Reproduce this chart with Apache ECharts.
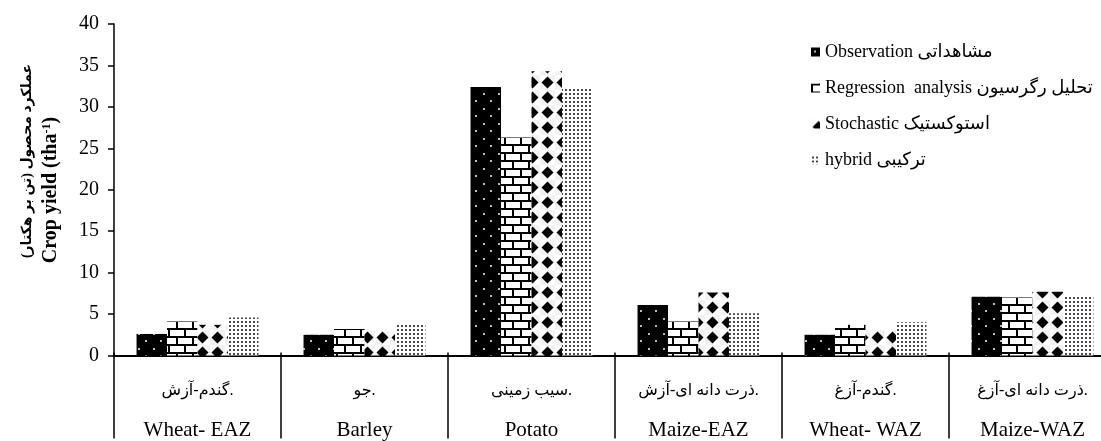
<!DOCTYPE html>
<html>
<head>
<meta charset="utf-8">
<script src="https://cdn.jsdelivr.net/npm/echarts@6/dist/echarts.min.js"></script>
<style>
html,body{margin:0;padding:0;background:#fff;overflow:hidden;width:1101px;height:441px;}
#c{width:1130px;height:441px;}
</style>
</head>
<body>
<div id="c"></div>
<script>
// ---- data ----
const categoriesEn = ['Wheat- EAZ', 'Barley', 'Potato', 'Maize-EAZ', 'Wheat- WAZ', 'Maize-WAZ'];
const categoriesFa = ['گندم-آزش.', 'جو.', 'سیب زمینی.', 'ذرت دانه ای-آزش.', 'گندم-آزغ.', 'ذرت دانه ای-آزغ.'];
const seriesNames = ['Observation مشاهداتی', 'Regression  analysis تحلیل رگرسیون', 'Stochastic استوکستیک', 'hybrid ترکیبی'];
const observation = [2.6, 2.5, 32.4, 6.1, 2.5, 7.1];
const regression  = [4.1, 3.2, 26.3, 4.1, 3.7, 7.0];
const stochastic  = [3.7, 3.0, 34.3, 7.6, 3.1, 7.7];
const hybrid      = [4.6, 3.7, 32.4, 5.1, 4.0, 7.2];
const yTicks = { min: 0, max: 40, interval: 5 };

// ---- patterns ----
function mk(w, h, draw) {
  const c = document.createElement('canvas');
  c.width = w; c.height = h;
  draw(c.getContext('2d'));
  return { image: c, repeat: 'repeat' };
}
const patObs = mk(15, 15, g => {
  g.fillStyle = '#000'; g.fillRect(0, 0, 15, 15);
  g.fillStyle = '#bbb';
  g.fillRect(3, 3, 2, 2);
  g.fillRect(10, 10, 2, 2);
});
const patReg = mk(16, 16, g => {
  g.fillStyle = '#fff'; g.fillRect(0, 0, 16, 16);
  g.fillStyle = '#000';
  g.fillRect(0, 0, 16, 2);
  g.fillRect(0, 8, 16, 2);
  g.fillRect(0, 0, 2, 8);
  g.fillRect(8, 8, 2, 8);
});
const patSto = mk(15, 15, g => {
  g.fillStyle = '#f2f2f2'; g.fillRect(0, 0, 15, 15);
  g.fillStyle = '#fff';
  g.fillRect(0, 0, 7.5, 7.5); g.fillRect(7.5, 7.5, 7.5, 7.5);
  g.fillStyle = '#000';
  g.beginPath();
  g.moveTo(7.5, 1.5); g.lineTo(13.5, 7.5); g.lineTo(7.5, 13.5); g.lineTo(1.5, 7.5);
  g.closePath(); g.fill();
});
const patHyb = mk(4, 4, g => {
  g.fillStyle = '#fff'; g.fillRect(0, 0, 4, 4);
  g.fillStyle = '#4a4a4a';
  g.fillRect(1, 1, 2, 2);
});
const patterns = [patObs, patReg, patSto, patHyb];
const values = [observation, regression, stochastic, hybrid];

const chart = echarts.init(document.getElementById('c'), null, { renderer: 'canvas' });
const serif = '"Liberation Serif", "Times New Roman", "DejaVu Sans", serif';

// split trailing period into its own token so it is drawn at the right end, as in the source
function faLabel(s) {
  if (s.endsWith('.')) return '{fa|' + s.slice(0, -1) + '}{fa|.}';
  return '{fa|' + s + '}';
}

chart.setOption({
  animation: false,
  backgroundColor: '#fff',
  grid: { left: 114, top: 24, width: 1002, height: 334, containLabel: false },
  legend: {
    orient: 'vertical',
    left: 806, top: 38,
    itemWidth: 9, itemHeight: 9, itemGap: 18,
    icon: 'rect',
    textStyle: { fontFamily: serif, fontSize: 18, color: '#000', lineHeight: 18 },
    data: seriesNames
  },
  xAxis: [{
    type: 'category',
    data: categoriesEn,
    axisLine: { lineStyle: { color: '#000', width: 2 } },
    axisTick: { show: true, interval: 0, length: 83, lineStyle: { color: '#000', width: 1.5 } },
    axisLabel: {
      interval: 0, margin: 17,
      formatter: (v, i) => faLabel(categoriesFa[i]) + '\n{en|' + v + '}',
      rich: {
        fa: { fontFamily: serif, fontSize: 16, color: '#000', lineHeight: 36 },
        en: { fontFamily: serif, fontSize: 21, color: '#000', lineHeight: 44 }
      }
    }
  }, {
    type: 'category',
    data: categoriesEn,
    position: 'bottom',
    axisLine: { show: false },
    axisLabel: { show: false },
    axisTick: { show: true, inside: true, interval: 0, length: 3, lineStyle: { color: '#000', width: 1.5 } }
  }],
  yAxis: {
    type: 'value',
    min: yTicks.min, max: yTicks.max, interval: yTicks.interval,
    axisLine: { show: true, lineStyle: { color: '#000', width: 1.5 } },
    axisTick: { show: true, length: 6, lineStyle: { color: '#000', width: 1.5 } },
    splitLine: { show: false },
    axisLabel: { fontFamily: serif, fontSize: 20, color: '#000', margin: 15 }
  },
  graphic: [
    {
      type: 'text', x: 27, y: 161, rotation: Math.PI / 2,
      style: {
        text: 'عملکرد محصول (تن بر هکتار)\u200F',
        font: 'bold 14px ' + serif,
        fill: '#000', align: 'center', verticalAlign: 'middle'
      }
    },
    {
      type: 'text', x: 51, y: 190, rotation: Math.PI / 2,
      style: {
        text: '{b|Crop yield (tha}{s|-1}{b|)}',
        align: 'center', verticalAlign: 'middle',
        rich: {
          b: { fontFamily: serif, fontWeight: 'bold', fontSize: 20, fill: '#000', color: '#000' },
          s: { fontFamily: serif, fontWeight: 'bold', fontSize: 12, fill: '#000', color: '#000', padding: [0, 0, 9, 0] }
        }
      }
    }
  ],
  series: seriesNames.map((n, k) => ({
    name: n,
    type: 'bar',
    xAxisIndex: 0,
    data: values[k],
    barGap: '0%',
    barCategoryGap: '27%',
    itemStyle: { color: patterns[k] }
  }))
});
</script>
</body>
</html>
